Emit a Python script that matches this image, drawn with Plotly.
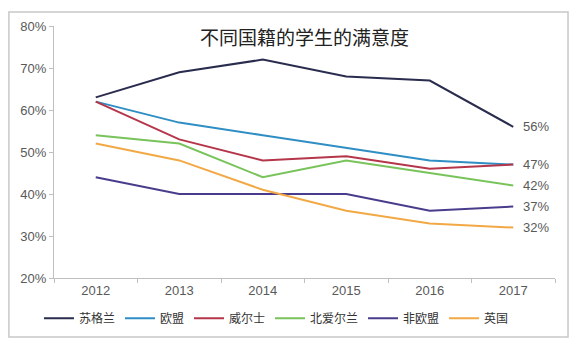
import plotly.graph_objects as go

years = ["2012", "2013", "2014", "2015", "2016", "2017"]
series_names = ["苏格兰", "欧盟", "威尔士", "北爱尔兰", "非欧盟", "英国"]
scotland = [63, 69, 72, 68, 67, 56]
eu = [62, 57, 54, 51, 48, 47]
wales = [62, 53, 48, 49, 46, 47]
n_ireland = [54, 52, 44, 48, 45, 42]
non_eu = [44, 40, 40, 40, 36, 37]
uk = [52, 48, 41, 36, 33, 32]
end_labels = [56, 47, 42, 37, 32]
title = "不同国籍的学生的满意度"

colors = ["#2a2c4e", "#2f8ec4", "#b5364a", "#79c35b", "#4a3c8c", "#f2a945"]
all_series = [scotland, eu, wales, n_ireland, non_eu, uk]

FONT = "Liberation Sans, Arial, Noto Sans CJK SC, sans-serif"
CJK = "Noto Sans CJK SC, sans-serif"

fig = go.Figure()
for name, vals, c in zip(series_names, all_series, colors):
    fig.add_trace(go.Scatter(x=years, y=vals, name=name, mode="lines",
                             line=dict(color=c, width=2)))

last_idx = len(years) - 1
for v in end_labels:
    fig.add_annotation(x=last_idx, y=v, xref="x", yref="y", text=f"{v}%",
                       showarrow=False, xanchor="left", yanchor="middle", xshift=8,
                       font=dict(family=FONT, size=13, color="#595959"))

fig.add_annotation(x=0.5, y=0.96, xref="paper", yref="paper", text=title,
                   showarrow=False, xanchor="center", yanchor="middle",
                   font=dict(family=CJK, size=19, color="#222222"))

fig.add_shape(type="rect", xref="paper", yref="paper",
              x0=-0.09, x1=1.026, y0=-0.234, y1=1.056,
              line=dict(color="#c8c8c8", width=1.5))

fig.update_layout(
    width=580, height=347,
    margin=dict(l=54, r=25, t=26, b=69),
    paper_bgcolor="white", plot_bgcolor="white",
    showlegend=True,
    legend=dict(orientation="h", x=-0.03, y=-0.16, xanchor="left", yanchor="middle",
                font=dict(family=CJK, size=12, color="#333333"),
                itemwidth=30, tracegroupgap=0),
    xaxis=dict(type="category", showgrid=False, showline=True, linecolor="#bfbfbf",
               linewidth=1, ticks="outside", tickson="boundaries", ticklen=4,
               tickcolor="#bfbfbf", range=[-0.5, 5.5],
               tickfont=dict(family=FONT, size=13, color="#595959")),
    yaxis=dict(range=[20, 80], dtick=10, ticksuffix="%", showgrid=False,
               showline=True, linecolor="#bfbfbf", linewidth=1, ticks="outside",
               ticklen=4, tickcolor="#bfbfbf", zeroline=False,
               tickfont=dict(family=FONT, size=13, color="#595959")),
)

fig.write_html("out.html")
